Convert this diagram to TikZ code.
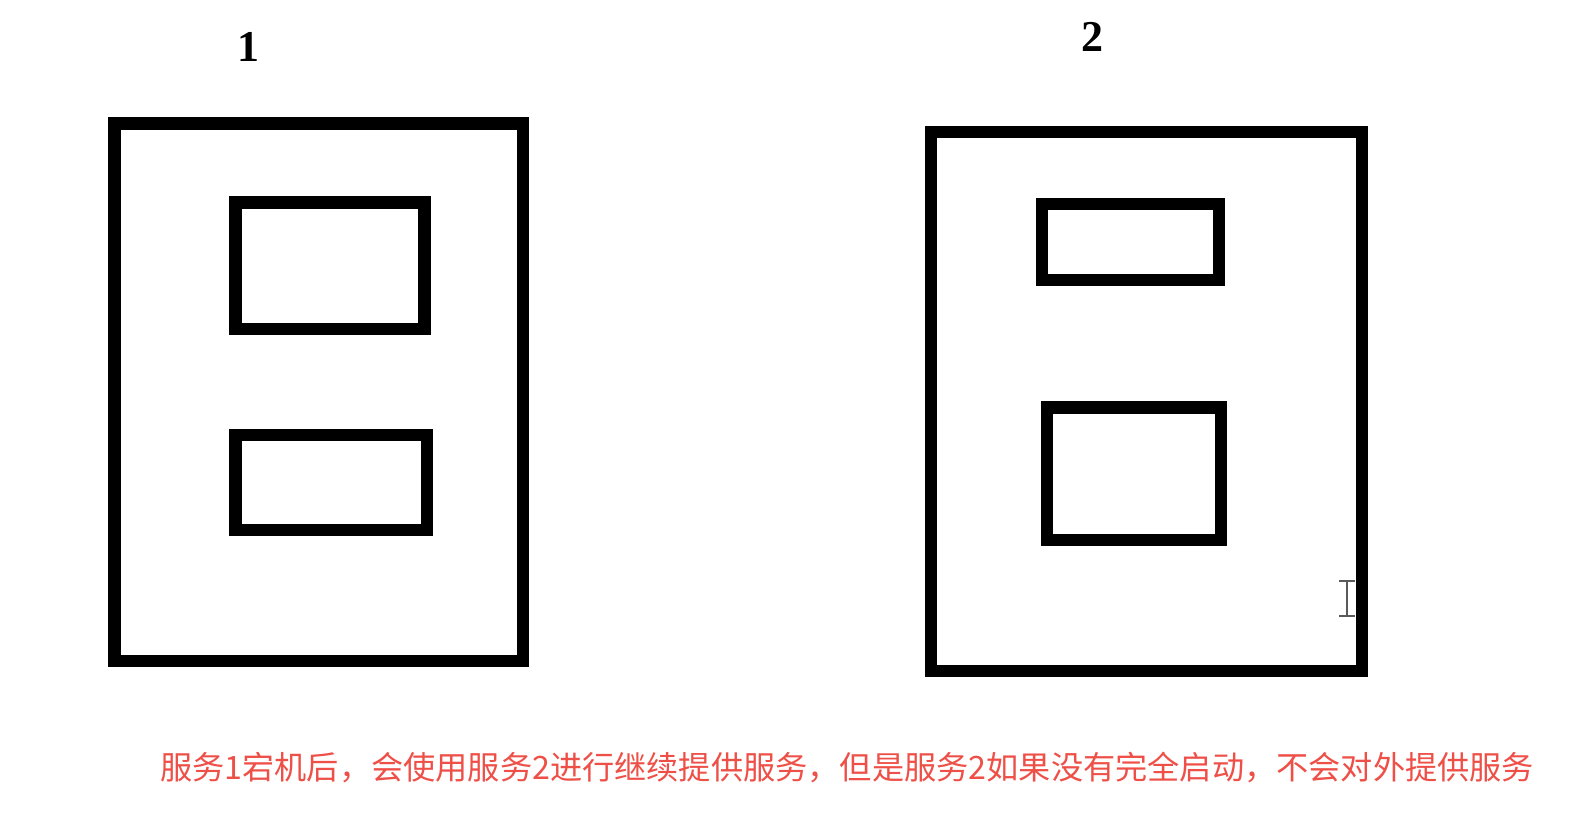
\documentclass[tikz,border=0pt]{standalone}
\usepackage{fontspec}
\newfontfamily\cjk{Noto Sans CJK SC}
\newfontfamily\numfont{Liberation Serif}
\definecolor{notered}{RGB}{238,80,72}
\definecolor{cursorgray}{RGB}{90,90,90}
\begin{document}
\begin{tikzpicture}[x=1pt,y=-1pt,
  frame/.style={draw=black,line width=12.5pt,line join=miter,rectangle,inner sep=0pt,outer sep=0pt},
  numlabel/.style={font=\numfont\bfseries\fontsize{44}{48}\selectfont,inner sep=0pt},
  note/.style={font=\cjk\fontsize{32.2}{38}\selectfont,text=notered,inner sep=0pt,anchor=west}]
\useasboundingbox[fill=white] (0,0) rectangle (1576,840);
% server 1
\node[frame,minimum width=408.5pt,minimum height=537.5pt] (s1) at (318.75,392.25) {};
\node[frame,minimum width=189pt,minimum height=126.5pt] (s1a) at (330,265.75) {};
\node[frame,minimum width=191.5pt,minimum height=95pt] (s1b) at (331.25,482.5) {};
\node[numlabel] (l1) at (248,47) {1};
% server 2
\node[frame,minimum width=431pt,minimum height=539pt] (s2) at (1146.5,401.5) {};
\node[frame,minimum width=177pt,minimum height=76pt] (s2a) at (1130.5,242) {};
\node[frame,minimum width=174pt,minimum height=132.5pt] (s2b) at (1134,473.75) {};
\node[numlabel] (l2) at (1092,37) {2};
% text cursor
\coordinate (ct) at (1347,581);
\coordinate (cb) at (1347,616);
\draw[cursorgray,line width=2.5pt] (ct) -- (cb);
\draw[cursorgray,line width=2.5pt] ([xshift=-8pt]ct) -- ([xshift=8pt]ct);
\draw[cursorgray,line width=2.5pt] ([xshift=-8pt]cb) -- ([xshift=8pt]cb);
% note
\node[note] (txt) at (160,768) {服务1宕机后，会使用服务2进行继续提供服务，但是服务2如果没有完全启动，不会对外提供服务};
\end{tikzpicture}
\end{document}
